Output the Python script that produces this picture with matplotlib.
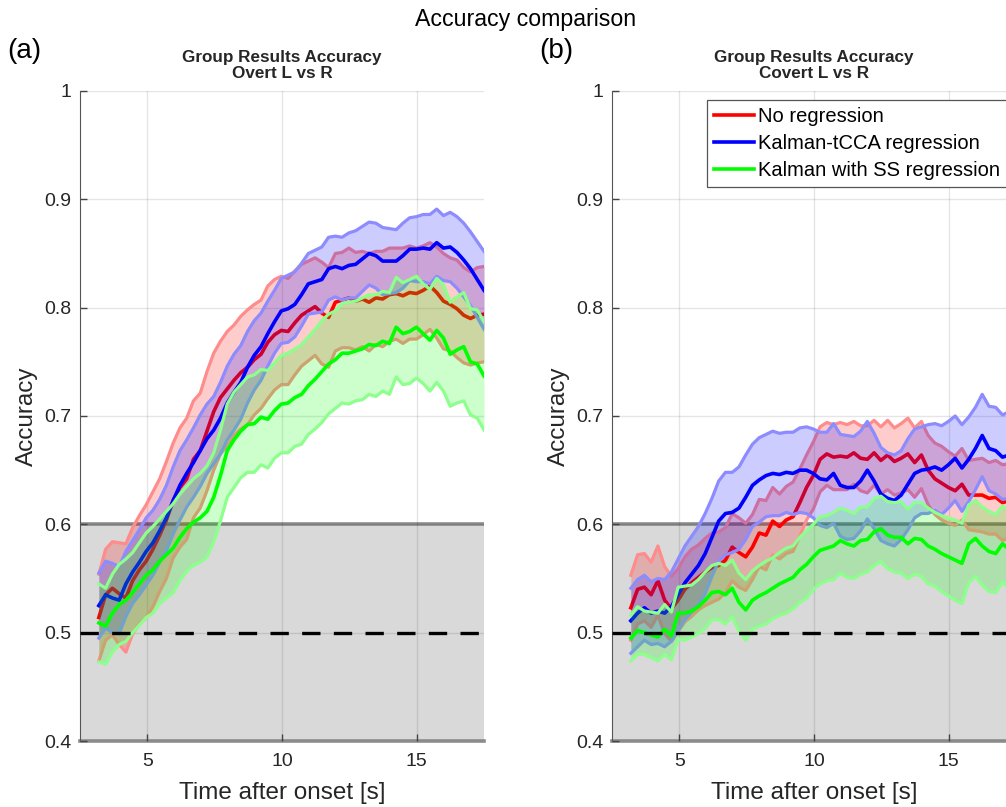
import numpy as np
import matplotlib
matplotlib.use("Agg")
import matplotlib.pyplot as plt
from matplotlib.lines import Line2D

plt.rcParams['font.family'] = ['Liberation Sans', 'DejaVu Sans']

# time axis (s), same sampling for every curve
t = np.linspace(3.2, 17.5, 58)

# (a) overt L vs R : mean accuracy and half width of the shaded band
no_reg_a = [0.514, 0.535, 0.541, 0.536, 0.532, 0.548, 0.558, 0.566, 0.577, 0.590,
            0.604, 0.622, 0.634, 0.642, 0.660, 0.668, 0.686, 0.704, 0.717, 0.725,
            0.733, 0.740, 0.745, 0.752, 0.757, 0.768, 0.775, 0.779, 0.778, 0.786,
            0.793, 0.797, 0.801, 0.795, 0.791, 0.805, 0.807, 0.809, 0.806, 0.808,
            0.805, 0.809, 0.808, 0.812, 0.813, 0.811, 0.814, 0.813, 0.816, 0.820,
            0.814, 0.806, 0.803, 0.799, 0.793, 0.790, 0.793, 0.794]
no_reg_a_err = [0.040, 0.042, 0.043, 0.047, 0.050, 0.049, 0.050, 0.052, 0.053, 0.052,
                0.054, 0.053, 0.055, 0.056, 0.054, 0.053, 0.055, 0.054, 0.052, 0.053,
                0.051, 0.052, 0.053, 0.051, 0.050, 0.052, 0.051, 0.050, 0.049, 0.048,
                0.047, 0.046, 0.045, 0.047, 0.046, 0.045, 0.044, 0.046, 0.045, 0.044,
                0.045, 0.043, 0.044, 0.043, 0.042, 0.044, 0.043, 0.042, 0.041, 0.040,
                0.042, 0.044, 0.043, 0.045, 0.044, 0.043, 0.044, 0.044]
tcca_a = [0.525, 0.535, 0.532, 0.530, 0.545, 0.556, 0.565, 0.575, 0.583, 0.594,
          0.606, 0.622, 0.636, 0.647, 0.657, 0.668, 0.679, 0.687, 0.698, 0.712,
          0.722, 0.731, 0.745, 0.756, 0.764, 0.776, 0.787, 0.797, 0.799, 0.803,
          0.812, 0.822, 0.824, 0.826, 0.836, 0.838, 0.836, 0.839, 0.840, 0.845,
          0.850, 0.848, 0.843, 0.843, 0.843, 0.848, 0.854, 0.854, 0.855, 0.854,
          0.860, 0.855, 0.856, 0.851, 0.844, 0.836, 0.826, 0.816]
tcca_a_err = [0.030, 0.031, 0.032, 0.031, 0.030, 0.029, 0.030, 0.031, 0.030, 0.029,
              0.030, 0.031, 0.032, 0.031, 0.032, 0.033, 0.032, 0.031, 0.033, 0.034,
              0.035, 0.034, 0.033, 0.032, 0.031, 0.030, 0.029, 0.030, 0.031, 0.030,
              0.029, 0.028, 0.029, 0.030, 0.029, 0.028, 0.029, 0.030, 0.031, 0.030,
              0.029, 0.030, 0.031, 0.030, 0.029, 0.030, 0.029, 0.030, 0.031, 0.032,
              0.031, 0.030, 0.032, 0.033, 0.034, 0.034, 0.035, 0.036]
ss_a = [0.509, 0.506, 0.518, 0.526, 0.530, 0.537, 0.545, 0.553, 0.558, 0.566,
        0.572, 0.578, 0.588, 0.596, 0.602, 0.606, 0.612, 0.625, 0.645, 0.668,
        0.678, 0.686, 0.692, 0.693, 0.699, 0.697, 0.705, 0.711, 0.712, 0.717,
        0.720, 0.728, 0.734, 0.741, 0.748, 0.752, 0.758, 0.758, 0.760, 0.762,
        0.766, 0.765, 0.769, 0.767, 0.782, 0.776, 0.778, 0.782, 0.776, 0.770,
        0.779, 0.772, 0.757, 0.761, 0.764, 0.750, 0.748, 0.737]
ss_a_err = [0.036, 0.035, 0.036, 0.037, 0.038, 0.037, 0.038, 0.039, 0.040, 0.039,
            0.040, 0.041, 0.040, 0.039, 0.040, 0.041, 0.042, 0.041, 0.042, 0.043,
            0.044, 0.043, 0.044, 0.045, 0.044, 0.045, 0.044, 0.045, 0.046, 0.045,
            0.046, 0.045, 0.046, 0.047, 0.046, 0.045, 0.046, 0.047, 0.046, 0.047,
            0.046, 0.047, 0.046, 0.047, 0.046, 0.047, 0.048, 0.047, 0.046, 0.047,
            0.048, 0.049, 0.048, 0.049, 0.050, 0.049, 0.050, 0.050]

# (b) covert L vs R
no_reg_b = [0.523, 0.540, 0.542, 0.535, 0.548, 0.530, 0.522, 0.530, 0.540, 0.546,
            0.551, 0.556, 0.560, 0.562, 0.567, 0.579, 0.574, 0.570, 0.579, 0.592,
            0.590, 0.603, 0.598, 0.604, 0.607, 0.620, 0.634, 0.645, 0.660, 0.665,
            0.662, 0.663, 0.662, 0.666, 0.661, 0.660, 0.666, 0.659, 0.664, 0.658,
            0.661, 0.665, 0.657, 0.664, 0.650, 0.642, 0.638, 0.634, 0.631, 0.637,
            0.627, 0.627, 0.627, 0.624, 0.625, 0.620, 0.622, 0.620]
no_reg_b_err = [0.030, 0.032, 0.031, 0.030, 0.032, 0.031, 0.030, 0.029, 0.030, 0.031,
                0.030, 0.031, 0.032, 0.031, 0.030, 0.031, 0.032, 0.031, 0.030, 0.031,
                0.032, 0.031, 0.030, 0.031, 0.032, 0.031, 0.030, 0.031, 0.030, 0.029,
                0.030, 0.031, 0.030, 0.029, 0.030, 0.031, 0.030, 0.031, 0.032, 0.031,
                0.032, 0.033, 0.032, 0.031, 0.032, 0.033, 0.034, 0.033, 0.032, 0.033,
                0.032, 0.033, 0.034, 0.033, 0.034, 0.035, 0.034, 0.035]
tcca_b = [0.511, 0.518, 0.523, 0.518, 0.520, 0.518, 0.524, 0.535, 0.546, 0.554,
          0.562, 0.573, 0.588, 0.603, 0.610, 0.611, 0.615, 0.625, 0.636, 0.641,
          0.645, 0.647, 0.646, 0.648, 0.647, 0.650, 0.650, 0.647, 0.642, 0.641,
          0.647, 0.636, 0.634, 0.634, 0.640, 0.650, 0.640, 0.628, 0.624, 0.622,
          0.627, 0.637, 0.647, 0.650, 0.651, 0.653, 0.650, 0.655, 0.661, 0.652,
          0.660, 0.670, 0.682, 0.670, 0.668, 0.662, 0.664, 0.660]
tcca_b_err = [0.030, 0.031, 0.030, 0.029, 0.030, 0.031, 0.032, 0.033, 0.034, 0.035,
              0.036, 0.037, 0.036, 0.037, 0.038, 0.037, 0.038, 0.039, 0.038, 0.039,
              0.038, 0.039, 0.038, 0.037, 0.038, 0.039, 0.040, 0.041, 0.043, 0.044,
              0.046, 0.047, 0.048, 0.047, 0.046, 0.045, 0.044, 0.043, 0.042, 0.042,
              0.041, 0.042, 0.041, 0.040, 0.041, 0.040, 0.041, 0.040, 0.039, 0.040,
              0.039, 0.038, 0.038, 0.039, 0.040, 0.039, 0.040, 0.041]
ss_b = [0.495, 0.502, 0.500, 0.498, 0.496, 0.503, 0.497, 0.518, 0.518, 0.520,
        0.524, 0.530, 0.537, 0.538, 0.535, 0.541, 0.528, 0.521, 0.530, 0.534,
        0.537, 0.541, 0.545, 0.548, 0.551, 0.558, 0.563, 0.570, 0.576, 0.578,
        0.580, 0.585, 0.582, 0.580, 0.585, 0.586, 0.593, 0.596, 0.590, 0.588,
        0.588, 0.582, 0.587, 0.586, 0.580, 0.577, 0.573, 0.570, 0.567, 0.564,
        0.582, 0.587, 0.580, 0.575, 0.573, 0.582, 0.577, 0.580]
ss_b_err = [0.021, 0.022, 0.020, 0.021, 0.022, 0.023, 0.022, 0.024, 0.025, 0.024,
            0.025, 0.026, 0.025, 0.026, 0.027, 0.026, 0.027, 0.028, 0.027, 0.028,
            0.029, 0.028, 0.029, 0.030, 0.029, 0.030, 0.031, 0.030, 0.031, 0.030,
            0.031, 0.030, 0.031, 0.030, 0.031, 0.030, 0.031, 0.030, 0.031, 0.032,
            0.033, 0.032, 0.033, 0.034, 0.035, 0.034, 0.035, 0.036, 0.037, 0.037,
            0.036, 0.035, 0.036, 0.037, 0.036, 0.035, 0.036, 0.036]

labels = ['No regression', 'Kalman-tCCA regression', 'Kalman with SS regression']
colors = [(1, 0, 0), (0, 0, 1), (0, 1, 0)]
chance = 0.5
sig_band = (0.4, 0.6)  # grey region (not significant)

W, H = 1006, 807


def lighter(c, f=0.55):
    return tuple(v + (1 - v) * f for v in c)


def shaded_line(ax, x, m, e, color, z):
    # band + its two edge lines + mean line, drawn in this order like shadedErrorBar
    m = np.asarray(m)
    e = np.asarray(e)
    edge = lighter(color)
    ax.fill_between(x, m - e, m + e, color=color, alpha=0.2, lw=0, zorder=z)
    ax.plot(x, m + e, color=edge, lw=2.3, zorder=z + 0.1, solid_joinstyle='round')
    ax.plot(x, m - e, color=edge, lw=2.3, zorder=z + 0.1, solid_joinstyle='round')
    ax.plot(x, m, color=color, lw=2.6, zorder=z + 0.2, solid_joinstyle='round')


def make_panel(ax, series, title, tag):
    ax.set_xlim(2.5, 17.5)
    ax.set_ylim(0.4, 1.0)
    # grey chance region
    ax.axhspan(sig_band[0], sig_band[1], facecolor='#d9d9d9', edgecolor='none', zorder=0.2)
    ax.axhline(sig_band[1], color='#8c8c8c', lw=2.6, zorder=0.3)
    ax.axhline(sig_band[0], color='#8c8c8c', lw=2.6, zorder=0.3, clip_on=False)
    for k, (m, e) in enumerate(series):
        shaded_line(ax, t, m, e, colors[k], 2 + k)
    ax.axhline(chance, color='k', lw=2.4, linestyle=(0, (5.5, 4)), zorder=10)

    ax.set_xticks([5, 10, 15])
    ax.set_yticks([0.4, 0.5, 0.6, 0.7, 0.8, 0.9, 1.0])
    ax.set_yticklabels(['0.4', '0.5', '0.6', '0.7', '0.8', '0.9', '1'])
    ax.grid(True, color='k', alpha=0.1, lw=1)
    ax.set_axisbelow(True)
    for s in ['top', 'right', 'bottom']:
        ax.spines[s].set_visible(False)
    ax.spines['left'].set_color('#555555')
    ax.tick_params(direction='in', length=5, width=1, color='#444444',
                   labelsize=14, labelcolor='#262626')
    ax.tick_params(axis='x', pad=9)
    ax.tick_params(axis='y', pad=6)
    ax.set_xlabel('Time after onset [s]', fontsize=17.5, color='#262626', labelpad=8)
    ax.set_ylabel('Accuracy', fontsize=17.5, color='#262626', labelpad=5)
    ax.set_title(title, fontsize=12.3, fontweight='bold', linespacing=1.1, pad=9, color='#262626')
    pos = ax.get_position()
    ax.figure.text(pos.x0 - 73 / W, 1 - 58 / H, tag, fontsize=20, va='baseline', ha='left')


if __name__ == "__main__":
    fig = plt.figure(figsize=(W / 100, H / 100), dpi=100)
    ax_a = fig.add_axes([80 / W, 1 - 741 / H, 404 / W, 650 / H])
    ax_b = fig.add_axes([612 / W, 1 - 741 / H, 404 / W, 650 / H])

    make_panel(ax_a, [(no_reg_a, no_reg_a_err), (tcca_a, tcca_a_err), (ss_a, ss_a_err)],
               'Group Results Accuracy\nOvert L vs R', '(a)')
    make_panel(ax_b, [(no_reg_b, no_reg_b_err), (tcca_b, tcca_b_err), (ss_b, ss_b_err)],
               'Group Results Accuracy\nCovert L vs R', '(b)')

    handles = [Line2D([0], [0], color=c, lw=2.6) for c in colors]
    leg = ax_b.legend(handles, labels, loc='upper left', fontsize=14.5,
                      bbox_to_anchor=(707 / W, 1 - 100 / H), bbox_transform=fig.transFigure,
                      borderaxespad=0, borderpad=0.35, handlelength=2.0, handletextpad=0.2,
                      labelspacing=0.4, fancybox=False, framealpha=1)
    leg.get_frame().set_edgecolor('#555555')
    leg.get_frame().set_linewidth(0.9)
    leg.set_zorder(20)

    fig.text(526 / W, 1 - 26 / H, 'Accuracy comparison', fontsize=16.7, ha='center', va='baseline')
    fig.savefig('out.png', dpi=100)
    plt.close(fig)
